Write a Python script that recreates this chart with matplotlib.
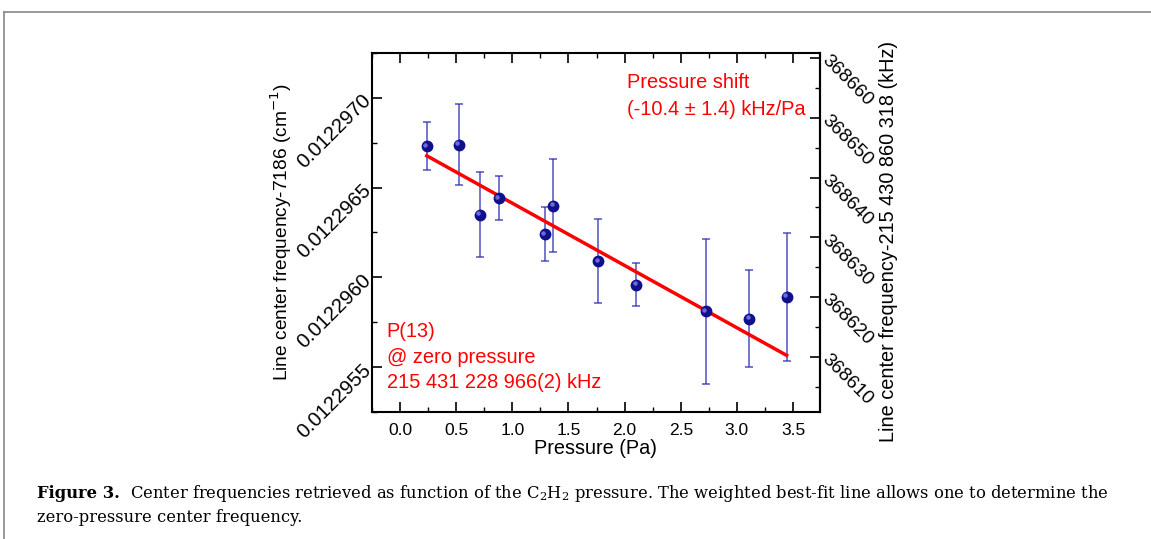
import matplotlib
matplotlib.use("Agg")
import matplotlib.pyplot as plt
from matplotlib.ticker import MultipleLocator, FormatStrFormatter
from matplotlib.lines import Line2D
from matplotlib.transforms import ScaledTranslation

plt.rcParams['font.family'] = ['Liberation Sans', 'DejaVu Sans']

# measured points: pressure (Pa), line center - 7186 (cm^-1), 1-sigma error (cm^-1)
pressure = [0.238, 0.525, 0.712, 0.879, 1.291, 1.365, 1.766, 2.104, 2.722, 3.111, 3.443]
center = [0.01229673, 0.01229674, 0.01229635, 0.01229644, 0.01229624, 0.01229640,
          0.01229609, 0.01229596, 0.01229581, 0.01229577, 0.01229589]
center_err = [1.33e-7, 2.24e-7, 2.39e-7, 1.22e-7, 1.50e-7, 2.57e-7,
              2.34e-7, 1.22e-7, 4.02e-7, 2.70e-7, 3.57e-7]

# weighted fit: value at zero pressure (cm^-1) and slope (cm^-1 / Pa)
fit_zero = 0.01229676
fit_slope = -3.469e-7

# conversion for the right axis (kHz, minus 215 430 860 318 kHz)
khz_per_wn = 29979245.8
khz_ref = 368653.3
wn_ref = 0.0122970

caption_bold = "Figure 3."
caption_text = ("Center frequencies retrieved as function of the $\\mathregular{C_2H_2}$ pressure. "
                "The weighted best-fit line allows one to determine the")
caption_text2 = "zero-pressure center frequency."


def to_khz(y):
    return khz_ref + (y - wn_ref) * khz_per_wn


def to_wn(k):
    return wn_ref + (k - khz_ref) / khz_per_wn


fig = plt.figure(figsize=(11.51, 5.39), dpi=100)
ax = fig.add_axes([0.3232, 0.2356, 0.3892, 0.6661])

ax.errorbar(pressure, center, yerr=center_err, fmt='none', ecolor='#2a2ab0',
            elinewidth=1.2, capsize=3, capthick=1.2, alpha=0.75, zorder=2)
ax.plot(pressure, center, 'o', color='#10108c', markersize=7.5, zorder=4)
# small highlight to give the markers a shaded look
shine = ax.transData + ScaledTranslation(-1.2 / 72, 1.2 / 72, fig.dpi_scale_trans)
ax.plot(pressure, center, 'o', color='#6c6cd8', markersize=2.2, zorder=5, transform=shine)

xfit = [min(pressure), max(pressure)]
yfit = [fit_zero + fit_slope * x for x in xfit]
ax.plot(xfit, yfit, color='red', lw=2.5, zorder=3)

ax.set_xlim(-0.25, 3.74)
ax.set_ylim(0.01229525, 0.01229725)
ax.xaxis.set_major_locator(MultipleLocator(0.5))
ax.xaxis.set_minor_locator(MultipleLocator(0.25))
ax.xaxis.set_major_formatter(FormatStrFormatter('%.1f'))
ax.yaxis.set_major_locator(MultipleLocator(5e-7))
ax.yaxis.set_minor_locator(MultipleLocator(2.5e-7))
ax.yaxis.set_major_formatter(FormatStrFormatter('%.7f'))

ax.tick_params(axis='x', which='both', direction='in', top=True, labelsize=12.5, pad=8)
ax.tick_params(axis='y', which='both', direction='in', right=False, labelsize=14.6, pad=3)
ax.tick_params(which='major', length=7, width=1.2)
ax.tick_params(which='minor', length=3.5, width=1.0)
for s in ax.spines.values():
    s.set_linewidth(1.5)

ax.set_xlabel("Pressure (Pa)", fontsize=14.3)
ax.xaxis.set_label_coords(0.5, -0.075)
ax.set_ylabel("Line center frequency-7186 (cm$^{-1}$)", fontsize=13.8)
ax.yaxis.set_label_coords(-0.174, 0.5)

sec = ax.secondary_yaxis('right', functions=(to_khz, to_wn))
sec.yaxis.set_major_locator(MultipleLocator(10))
sec.yaxis.set_minor_locator(MultipleLocator(5))
sec.yaxis.set_major_formatter(FormatStrFormatter('%d'))
sec.tick_params(which='both', direction='in', labelsize=13.8, pad=3)
sec.tick_params(which='major', length=7, width=1.2)
sec.tick_params(which='minor', length=3.5, width=1.0)
sec.spines['right'].set_linewidth(1.5)
sec.set_ylabel("Line center frequency-215 430 860 318 (kHz)", fontsize=14.3)
sec.yaxis.set_label_coords(1.132, 0.475, transform=ax.transAxes)

ax.text(0.569, 0.944, "Pressure shift\n(-10.4 \u00b1 1.4) kHz/Pa", color='red',
        fontsize=14.4, transform=ax.transAxes, va='top', ha='left', linespacing=1.5)
ax.text(0.033, 0.25, "P(13)\n@ zero pressure\n215 431 228 966(2) kHz", color='red',
        fontsize=14.4, transform=ax.transAxes, va='top', ha='left', linespacing=1.44)

cap_y1 = 1 - 494 / 539
cap_y2 = 1 - 518 / 539
cb = fig.text(37 / 1151, cap_y1, caption_bold, family='DejaVu Serif',
              fontweight='bold', fontsize=12, va='center')
c1 = fig.text(130 / 1151, cap_y1, caption_text, family='DejaVu Serif',
              fontsize=12, va='center')
c2 = fig.text(37 / 1151, cap_y2, caption_text2, family='DejaVu Serif',
              fontsize=12, va='center')

fig.add_artist(Line2D([4 / 1151, 1.0], [1 - 12 / 539, 1 - 12 / 539],
                      transform=fig.transFigure, color='#888888', lw=1.2))
fig.add_artist(Line2D([4 / 1151, 4 / 1151], [0.0, 1 - 12 / 539],
                      transform=fig.transFigure, color='#888888', lw=1.2))

fig.canvas.draw()
# fit the caption's first line to the width it has in the reference
r = fig.canvas.get_renderer()
w = c1.get_window_extent(r).width
fs = 12 * (1105 - 130) / w
for t in (cb, c1, c2):
    t.set_fontsize(fs)

for t in ax.get_yticklabels():
    t.set_rotation(45)
    t.set_rotation_mode('anchor')
    t.set_ha('right')
    t.set_va('center')
for t in sec.get_yticklabels():
    t.set_rotation(-45)
    t.set_rotation_mode('anchor')
    t.set_ha('left')
    t.set_va('center')

fig.savefig("out.png", dpi=100)
